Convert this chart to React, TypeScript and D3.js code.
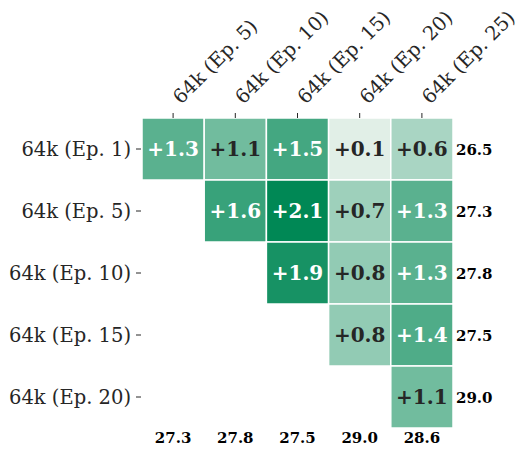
import React from "react";
import * as d3 from "d3";

const rowLabels = ["64k (Ep. 1)", "64k (Ep. 5)", "64k (Ep. 10)", "64k (Ep. 15)", "64k (Ep. 20)"];
const colLabels = ["64k (Ep. 5)", "64k (Ep. 10)", "64k (Ep. 15)", "64k (Ep. 20)", "64k (Ep. 25)"];
const values: (number | null)[][] = [
  [1.3, 1.1, 1.5, 0.1, 0.6],
  [null, 1.6, 2.1, 0.7, 1.3],
  [null, null, 1.9, 0.8, 1.3],
  [null, null, null, 0.8, 1.4],
  [null, null, null, null, 1.1],
];
const rowScores = [26.5, 27.3, 27.8, 27.5, 29.0];
const colScores = [27.3, 27.8, 27.5, 29.0, 28.6];

const W = 529, H = 455;
const left = 142, top = 118, right = 453, bottom = 428;
const FONT = "'DejaVu Serif', serif";

function luminance(c: string) {
  const rgb = d3.rgb(c);
  const f = (v: number) => {
    v /= 255;
    return v <= 0.03928 ? v / 12.92 : Math.pow((v + 0.055) / 1.055, 2.4);
  };
  return 0.2126 * f(rgb.r) + 0.7152 * f(rgb.g) + 0.0722 * f(rgb.b);
}

export default function App() {
  const x = d3.scaleBand<number>().domain(d3.range(colLabels.length)).range([left, right]);
  const y = d3.scaleBand<number>().domain(d3.range(rowLabels.length)).range([top, bottom]);
  const color = d3.scaleLinear<string>().domain([0.1, 2.1]).range(["#e1efe7", "#008855"]).interpolate(d3.interpolateRgb);

  const cells: { r: number; c: number; v: number }[] = [];
  values.forEach((row, r) => row.forEach((v, c) => { if (v !== null) cells.push({ r, c, v }); }));

  return (
    <svg width={W} height={H} style={{ position: "absolute", left: 0, top: 0, background: "#fff" }} fontFamily={FONT}>
      {cells.map(({ r, c, v }) => {
        const fill = color(v);
        const textFill = luminance(fill) > 0.408 ? "#262626" : "#ffffff";
        return (
          <g key={`${r}-${c}`}>
            <rect x={x(c)!} y={y(r)!} width={x.bandwidth()} height={y.bandwidth()} fill={fill} stroke="#fff" strokeWidth={1.5} />
            <text x={x(c)! + x.bandwidth() / 2} y={y(r)! + y.bandwidth() / 2} textAnchor="middle" dominantBaseline="central" fontSize={20} fontWeight="bold" fill={textFill}>
              {`+${v.toFixed(1)}`}
            </text>
          </g>
        );
      })}
      {colLabels.map((l, i) => {
        const cx = x(i)! + x.bandwidth() / 2;
        return (
          <g key={l}>
            <line x1={cx} x2={cx} y1={113} y2={118} stroke="#262626" strokeWidth={1} />
            <text transform={`translate(${cx + 8},${105}) rotate(-45)`} fontSize={19.5} fill="#262626">{l}</text>
            <text x={cx} y={438} textAnchor="middle" dominantBaseline="central" fontSize={15} fontWeight="bold" fill="#000">{colScores[i].toFixed(1)}</text>
          </g>
        );
      })}
      {rowLabels.map((l, i) => {
        const cy = y(i)! + y.bandwidth() / 2;
        return (
          <g key={l}>
            <line x1={136} x2={141} y1={cy} y2={cy} stroke="#262626" strokeWidth={1} />
            <text x={131} y={cy} textAnchor="end" dominantBaseline="central" fontSize={19.5} fill="#262626">{l}</text>
            <text x={456} y={cy + 1} dominantBaseline="central" fontSize={15} fontWeight="bold" fill="#000">{rowScores[i].toFixed(1)}</text>
          </g>
        );
      })}
    </svg>
  );
}
